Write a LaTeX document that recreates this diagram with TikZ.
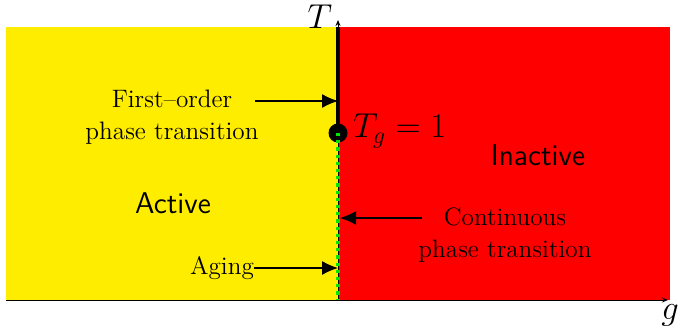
\documentclass[tikz,border=0pt]{standalone}
\usetikzlibrary{arrows.meta}
\definecolor{myyellow}{RGB}{255,237,0}
\definecolor{myred}{RGB}{255,0,0}
\definecolor{mygreen}{RGB}{0,230,0}
\begin{document}
\begin{tikzpicture}[x=1pt,y=1pt,
  lbl/.style={font=\fontsize{12.6}{16}\selectfont, align=center, inner sep=0pt},
  region/.style={font=\sffamily\fontsize{15}{18}\selectfont, inner sep=0pt},
  pointer/.style={line width=0.6pt, -{Latex[length=8pt,width=7pt]}},
  axis/.style={line width=0.5pt, -{Stealth[length=3pt,width=2.5pt]}},
  mathlbl/.style={font=\fontsize{17}{20}\selectfont, inner sep=0pt}]
\useasboundingbox (0,0) rectangle (339,164);
\fill[myyellow] (3,14) rectangle (169,150.5);
\fill[myred] (169,14) rectangle (335,150.5);
\coordinate (O) at (169,14);
\coordinate (xend) at (334,14);
\coordinate (yend) at (169,154);
\coordinate (ytop) at (169,150.5);
\coordinate (bot) at (169,14);
\draw[line width=0.5pt] (3,14) -- (O);
\draw[axis] (O) -- (xend);
\draw[axis] (O) -- (yend);
\node[mathlbl] (Tl) at (160,155.5) {$T$};
\node[mathlbl] (gl) at (335,6.5) {$g$};
\node[circle, fill=black, minimum size=9.5pt, inner sep=0pt] (crit) at (169,97.5) {};
\draw[line width=2pt] (ytop) -- (crit.center);
\draw[mygreen, line width=1.6pt, dash pattern=on 1.6pt off 2pt] (crit.center) -- (bot);
\node[mathlbl, anchor=west] (Tg) at (176.5,98.5) {$T_g=1$};
\node[lbl] (first) at (86,105.5) {First--order\\phase transition};
\coordinate (fa) at (127.5,113.5);
\coordinate (fb) at (169,113.5);
\draw[pointer] (fa) -- (fb);
\node[lbl] (cont) at (252.5,46.5) {Continuous\\phase transition};
\coordinate (ca) at (211,55);
\coordinate (cb) at (170,55);
\draw[pointer] (ca) -- (cb);
\node[lbl] (aging) at (111,30) {Aging};
\coordinate (ab) at (169,30);
\draw[pointer] (aging.east) -- (ab);
\node[region] (act) at (86.5,62.5) {Active};
\node[region] (inact) at (269,86.5) {Inactive};
\end{tikzpicture}
\end{document}
